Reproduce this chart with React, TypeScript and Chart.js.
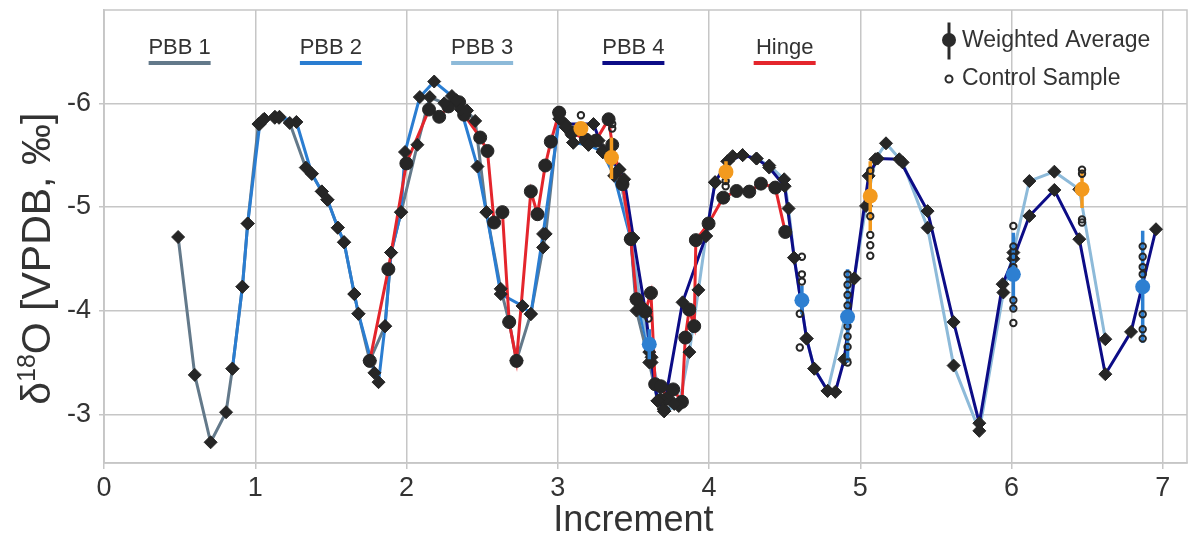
import React, { useEffect, useRef } from 'react';
import { Chart, registerables } from 'chart.js';

Chart.register(...registerables);

const FONT = '"Liberation Sans", Arial, Helvetica, sans-serif';
const TEXT = '#333333';
const GRID = '#c6c6c6';

const xTicks = [0, 1, 2, 3, 4, 5, 6, 7];
const yTicks = [-6, -5, -4, -3];

const seriesNames = ['PBB 1', 'PBB 2', 'PBB 3', 'PBB 4', 'Hinge'];
const seriesColors = ['#63798a', '#2a7dd1', '#8dbad9', '#0c0c86', '#e4252c'];

const avgColors = ['#f39a1e', '#2d7fd1'];

// PBB 1
const pbb1X = [0.49, 0.6, 0.705, 0.807, 0.849, 0.915, 0.95, 1.021, 1.052, 1.129, 1.157, 1.228, 1.334, 1.374, 1.44, 1.477, 1.546, 1.587, 1.655, 1.682, 1.757, 1.858, 1.898, 1.964, 2.072, 2.154, 2.25, 2.33, 2.4, 2.454, 2.528, 2.623, 2.679, 2.727, 2.822, 2.903, 2.92, 3.009, 3.053, 3.102, 3.203, 3.27, 3.296, 3.406, 3.483, 3.52, 3.605, 3.66, 3.704, 3.77];
const pbb1Y = [-4.71, -3.38, -2.73, -3.02, -3.44, -4.23, -4.84, -5.8, -5.84, -5.86, -5.86, -5.81, -5.38, -5.32, -5.15, -5.07, -4.8, -4.66, -4.16, -3.97, -3.52, -3.85, -4.56, -4.95, -5.6, -6.06, -6.0, -6.03, -5.93, -5.83, -4.95, -4.21, -3.89, -3.52, -3.97, -4.61, -4.74, -5.91, -5.77, -5.62, -5.6, -5.64, -5.53, -5.36, -4.69, -4.0, -3.5, -3.13, -3.03, -3.1];

// PBB 2
const pbb2X = [0.849, 0.915, 0.95, 1.03, 1.06, 1.13, 1.16, 1.272, 1.374, 1.44, 1.477, 1.546, 1.587, 1.655, 1.682, 1.788, 1.815, 1.858, 1.898, 1.964, 1.99, 2.088, 2.183, 2.3, 2.36, 2.469, 2.528, 2.623, 2.767, 2.822, 2.903, 3.01, 3.053, 3.102, 3.203, 3.296, 3.373, 3.483, 3.52, 3.605, 3.66, 3.704];
const pbb2Y = [-3.44, -4.23, -4.84, -5.8, -5.85, -5.87, -5.87, -5.82, -5.32, -5.15, -5.07, -4.8, -4.66, -4.16, -3.97, -3.4, -3.31, -3.85, -4.56, -4.95, -5.53, -6.06, -6.21, -6.07, -5.94, -5.39, -4.95, -4.16, -4.045, -3.965, -4.74, -5.85, -5.77, -5.62, -5.6, -5.53, -5.3, -4.69, -4.11, -3.6, -3.13, -3.03];

// PBB 3
const pbb3X = [3.3, 3.406, 3.483, 3.55, 3.62, 3.68, 3.704, 3.8, 3.87, 3.93, 3.98, 4.04, 4.122, 4.156, 4.222, 4.314, 4.398, 4.497, 4.526, 4.563, 4.645, 4.696, 4.784, 4.96, 5.038, 5.1, 5.17, 5.28, 5.445, 5.617, 5.787, 5.946, 6.012, 6.118, 6.283, 6.448, 6.62];
const pbb3Y = [-5.53, -5.36, -4.69, -4.05, -3.55, -3.15, -3.03, -3.08, -3.6, -4.2, -4.72, -5.24, -5.44, -5.49, -5.5, -5.467, -5.4, -5.267, -4.985, -4.51, -3.73, -3.44, -3.226, -4.31, -5.01, -5.46, -5.614, -5.43, -4.8, -3.47, -2.84, -4.175, -4.56, -5.25, -5.34, -5.17, -3.724];

// PBB 4
const pbb4X = [3.05, 3.236, 3.3, 3.406, 3.439, 3.5, 3.58, 3.62, 3.66, 3.7, 3.825, 3.98, 4.04, 4.122, 4.222, 4.314, 4.398, 4.5, 4.563, 4.645, 4.696, 4.784, 4.835, 4.894, 4.96, 5.055, 5.115, 5.258, 5.445, 5.617, 5.787, 5.941, 6.012, 6.118, 6.283, 6.448, 6.62, 6.79, 6.955];
const pbb4Y = [-5.8, -5.8, -5.55, -5.364, -5.267, -4.7, -3.99, -3.5, -3.13, -3.05, -4.08, -4.72, -5.235, -5.44, -5.5, -5.467, -5.38, -5.2, -4.51, -3.73, -3.44, -3.226, -3.216, -3.53, -4.31, -5.3, -5.467, -5.46, -4.96, -3.89, -2.914, -4.255, -4.5, -4.913, -5.164, -4.689, -3.387, -3.795, -4.785];

// Hinge
const hingeX = [1.757, 1.88, 1.999, 2.149, 2.216, 2.277, 2.348, 2.381, 2.487, 2.535, 2.579, 2.634, 2.679, 2.727, 2.822, 2.866, 2.917, 2.954, 3.009, 3.09, 3.186, 3.252, 3.336, 3.36, 3.428, 3.483, 3.521, 3.578, 3.616, 3.644, 3.682, 3.726, 3.763, 3.821, 3.843, 3.869, 3.902, 3.913, 3.997, 4.094, 4.182, 4.266, 4.343, 4.438, 4.504];
const hingeY = [-3.515, -4.4, -5.42, -5.94, -5.87, -5.97, -6.01, -5.89, -5.67, -5.54, -4.85, -4.95, -3.89, -3.515, -5.15, -4.93, -5.4, -5.63, -5.91, -5.72, -5.65, -5.64, -5.846, -5.6, -5.22, -4.69, -4.11, -3.99, -4.17, -3.29, -3.27, -3.15, -3.24, -3.12, -3.74, -4.01, -3.85, -4.68, -4.84, -5.09, -5.154, -5.148, -5.225, -5.187, -4.759];

// Weighted averages (orange group)
const orangeX = [3.153, 3.355, 4.112, 5.066, 6.466];
const orangeY = [-5.756, -5.476, -5.338, -5.106, -5.171];
const orangeLo = [-5.82, -5.67, -5.44, -5.44, -5.36];
const orangeHi = [-5.69, -5.27, -5.22, -4.77, -4.99];

// Weighted averages (blue group)
const blueX = [3.605, 4.614, 4.916, 6.012, 6.867];
const blueY = [-3.676, -4.1, -3.94, -4.35, -4.23];
const blueLo = [-3.82, -4.24, -4.4, -4.75, -4.77];
const blueHi = [-3.53, -3.965, -3.5, -4.0, -3.69];

// Control samples
const controlX = [3.153, 3.36, 3.36, 3.6, 4.11, 4.11, 4.614, 4.614, 4.614, 4.6, 4.6, 4.916, 4.916, 4.916, 4.916, 4.916, 4.916, 4.916, 4.916, 5.066, 5.066, 5.066, 5.066, 5.066, 6.012, 6.012, 6.012, 6.012, 6.012, 6.012, 6.012, 6.466, 6.466, 6.466, 6.466, 6.867, 6.867, 6.867, 6.867, 6.867, 6.867, 6.867];
const controlY = [-5.884, -5.756, -5.8, -3.924, -5.2, -5.25, -4.52, -4.35, -4.28, -3.97, -3.644, -4.35, -4.25, -4.15, -4.05, -3.85, -3.75, -3.65, -3.5, -5.35, -4.91, -4.73, -4.63, -4.53, -4.817, -4.62, -4.52, -4.42, -4.1, -4.02, -3.88, -5.36, -5.32, -4.88, -4.85, -4.62, -4.52, -4.42, -4.35, -3.965, -3.82, -3.73];

const pts = (xs: number[], ys: number[]) => xs.map((x, i) => ({ x, y: ys[i] }));

const barPts = (xs: number[], lo: number[], hi: number[]) => {
  const out: { x: number; y: number | null }[] = [];
  xs.forEach((x, i) => {
    out.push({ x, y: lo[i] });
    out.push({ x, y: hi[i] });
    out.push({ x, y: null });
  });
  return out;
};

const decorPlugin = {
  id: 'decor',
  beforeDatasetsDraw(chart: any) {
    const { ctx, chartArea: a } = chart;
    ctx.save();
    ctx.strokeStyle = GRID;
    ctx.lineWidth = 1.5;
    ctx.strokeRect(a.left, a.top, a.right - a.left, a.bottom - a.top);
    ctx.restore();
  },
  afterDraw(chart: any) {
    const { ctx, chartArea: a, scales } = chart;
    const xs = scales.x;
    const ys = scales.y;
    ctx.save();
    ctx.textBaseline = 'alphabetic';

    // series legend
    ctx.font = `22px ${FONT}`;
    ctx.textAlign = 'center';
    seriesNames.forEach((name, i) => {
      const cx = xs.getPixelForValue(i + 0.5);
      ctx.fillStyle = TEXT;
      ctx.fillText(name, cx, a.top + 44);
      ctx.strokeStyle = seriesColors[i];
      ctx.lineWidth = 4;
      ctx.beginPath();
      ctx.moveTo(cx - 31, a.top + 53);
      ctx.lineTo(cx + 31, a.top + 53);
      ctx.stroke();
    });

    // marker legend
    const mx = a.right - 238;
    ctx.strokeStyle = '#2b2b2b';
    ctx.lineWidth = 3;
    ctx.beginPath();
    ctx.moveTo(mx, a.top + 12.5);
    ctx.lineTo(mx, a.top + 49.5);
    ctx.stroke();
    ctx.fillStyle = '#2b2b2b';
    ctx.beginPath();
    ctx.arc(mx, a.top + 30, 7, 0, Math.PI * 2);
    ctx.fill();
    ctx.fillStyle = '#ffffff';
    ctx.lineWidth = 2;
    ctx.beginPath();
    ctx.arc(mx, a.top + 69, 3.5, 0, Math.PI * 2);
    ctx.fill();
    ctx.stroke();
    ctx.fillStyle = TEXT;
    ctx.textAlign = 'left';
    ctx.font = `23px ${FONT}`;
    ctx.fillText('Weighted Average', mx + 13, a.top + 37);
    ctx.fillText('Control Sample', mx + 13, a.top + 75);

    // x title
    ctx.textAlign = 'center';
    ctx.font = `36px ${FONT}`;
    const xc = (xs.getPixelForValue(xTicks[0]) + xs.getPixelForValue(xTicks[xTicks.length - 1])) / 2;
    ctx.fillText('Increment', xc, a.bottom + 67.5);

    // y title with superscript
    const yc = (ys.getPixelForValue(yTicks[0]) + ys.getPixelForValue(yTicks[yTicks.length - 1])) / 2;
    ctx.translate(a.left - 54, yc);
    ctx.rotate(-Math.PI / 2);
    const big = `41px ${FONT}`;
    const small = `25px ${FONT}`;
    ctx.font = big;
    const w1 = ctx.measureText('δ').width;
    const w3 = ctx.measureText('O [VPDB, ‰]').width;
    ctx.font = small;
    const w2 = ctx.measureText('18').width;
    let px = -(w1 + w2 + w3) / 2;
    ctx.textAlign = 'left';
    ctx.font = big;
    ctx.fillText('δ', px, 0);
    px += w1;
    ctx.font = small;
    ctx.fillText('18', px, -15);
    px += w2;
    ctx.font = big;
    ctx.fillText('O [VPDB, ‰]', px, 0);
    ctx.restore();
  },
};

const lineDs = (xs: number[], ys: number[], color: string, order: number) => ({
  data: pts(xs, ys),
  showLine: true,
  borderColor: color,
  backgroundColor: color,
  borderWidth: 3,
  pointRadius: 0,
  tension: 0,
  order,
});

const markerDs = (xs: number[], ys: number[], style: string, r: number, order: number) => ({
  data: pts(xs, ys),
  showLine: false,
  pointStyle: style,
  pointRadius: r,
  backgroundColor: '#262626',
  borderColor: '#262626',
  borderWidth: 1,
  order,
});

export default function App() {
  const ref = useRef<HTMLCanvasElement | null>(null);

  useEffect(() => {
    if (!ref.current) return;
    const chart = new Chart(ref.current, {
      type: 'scatter',
      data: {
        datasets: [
          lineDs(pbb1X, pbb1Y, seriesColors[0], 9),
          lineDs(pbb2X, pbb2Y, seriesColors[1], 8),
          lineDs(pbb3X, pbb3Y, seriesColors[2], 7),
          lineDs(pbb4X, pbb4Y, seriesColors[3], 6),
          lineDs(hingeX, hingeY, seriesColors[4], 5),
          markerDs(pbb1X, pbb1Y, 'rectRot', 6.5, 4),
          markerDs(pbb2X, pbb2Y, 'rectRot', 6.5, 4),
          markerDs(pbb3X, pbb3Y, 'rectRot', 6.5, 4),
          markerDs(pbb4X, pbb4Y, 'rectRot', 6.5, 4),
          markerDs(hingeX, hingeY, 'circle', 6.5, 4),
          {
            data: barPts(orangeX, orangeLo, orangeHi),
            showLine: true,
            spanGaps: false,
            borderColor: avgColors[0],
            borderWidth: 3.5,
            pointRadius: 0,
            order: 3,
          },
          {
            data: barPts(blueX, blueLo, blueHi),
            showLine: true,
            spanGaps: false,
            borderColor: avgColors[1],
            borderWidth: 3.5,
            pointRadius: 0,
            order: 3,
          },
          {
            data: pts(controlX, controlY),
            showLine: false,
            pointStyle: 'circle',
            pointRadius: 3.2,
            backgroundColor: 'rgba(255,255,255,0)',
            borderColor: '#262626',
            borderWidth: 2,
            order: 2,
          },
          {
            data: pts(orangeX, orangeY),
            showLine: false,
            pointRadius: 7.5,
            backgroundColor: avgColors[0],
            borderColor: avgColors[0],
            borderWidth: 0,
            order: 1,
          },
          {
            data: pts(blueX, blueY),
            showLine: false,
            pointRadius: 7.5,
            backgroundColor: avgColors[1],
            borderColor: avgColors[1],
            borderWidth: 0,
            order: 1,
          },
        ] as any,
      },
      options: {
        responsive: false,
        animation: false,
        devicePixelRatio: 1,
        events: [],
        layout: { padding: { top: 10, right: 9, left: 0, bottom: 0 } },
        plugins: { legend: { display: false }, tooltip: { enabled: false } },
        scales: {
          x: {
            type: 'linear',
            min: 0,
            max: 7.16,
            afterBuildTicks: (s: any) => {
              s.ticks = xTicks.map((v) => ({ value: v }));
            },
            afterFit: (s: any) => {
              s.height = 72;
              s.paddingLeft = 0;
              s.paddingRight = 0;
            },
            grid: { color: GRID, lineWidth: 1.5, tickLength: 6, drawTicks: true },
            border: { display: true, color: GRID, width: 1.5 },
            ticks: {
              color: TEXT,
              font: { family: FONT, size: 27 },
              padding: 3,
              maxRotation: 0,
              autoSkip: false,
              callback: (v: any) => String(v),
            },
          },
          y: {
            type: 'linear',
            reverse: true,
            min: -6.9,
            max: -2.53,
            afterBuildTicks: (s: any) => {
              s.ticks = yTicks.map((v) => ({ value: v }));
            },
            afterFit: (s: any) => {
              s.width = 104;
              s.paddingTop = 0;
              s.paddingBottom = 0;
            },
            grid: { color: GRID, lineWidth: 1.5, tickLength: 5, drawTicks: true },
            border: { display: true, color: GRID, width: 1.5 },
            ticks: {
              color: TEXT,
              font: { family: FONT, size: 27 },
              padding: 8,
              autoSkip: false,
              callback: (v: any) => String(v),
            },
          },
        },
      } as any,
      plugins: [decorPlugin],
    });
    return () => chart.destroy();
  }, []);

  return (
    <div style={{ position: 'absolute', left: 0, top: 0, width: 1196, height: 535 }}>
      <canvas ref={ref} width={1196} height={535} />
    </div>
  );
}
